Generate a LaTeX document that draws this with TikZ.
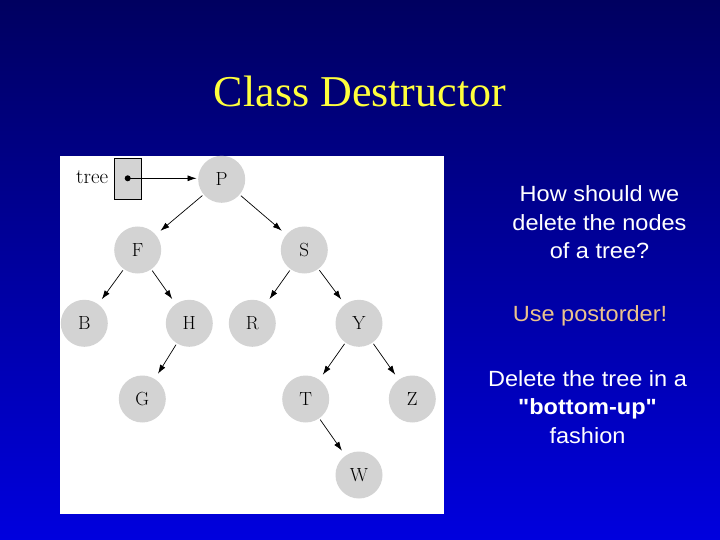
\documentclass[tikz,border=0pt]{standalone}
\usepackage{fontspec}
\usetikzlibrary{arrows.meta}
\newfontfamily\titlefont{Liberation Serif}
\newfontfamily\bodyfont{Liberation Sans}[FakeStretch=1.07]
\definecolor{bgtop}{RGB}{0,0,96}
\definecolor{bgbot}{RGB}{0,0,222}
\definecolor{titleyellow}{RGB}{255,255,60}
\definecolor{tanorange}{RGB}{235,195,140}
\definecolor{nodegray}{RGB}{211,211,211}
\begin{document}
\begin{tikzpicture}[x=1pt,y=-1pt,
  treenode/.style={circle, fill=nodegray, minimum size=47pt, inner sep=0pt, font=\fontsize{19}{21}\selectfont},
  edge/.style={-{Latex[length=9pt,width=6pt]}, line width=0.7pt, shorten >=6pt, shorten <=1.5pt},
  bodyline/.style={text=white, anchor=base, inner sep=0pt, font=\bodyfont\fontsize{22}{28}\selectfont}]
\useasboundingbox (0,0) rectangle (720,540);
\shade[top color=bgtop, bottom color=bgbot] (0,0) rectangle (720,540);
% title
\node (title) at (360,106.5) [anchor=base, inner sep=0pt, text=titleyellow, font=\titlefont\fontsize{44}{50}\selectfont] {Class Destructor};
% panel
\fill[white] (60,156) rectangle (444,514);
% tree nodes
\node[treenode] (P) at (221.7,179.3) {P};
\node[treenode] (F) at (137.7,250) {F};
\node[treenode] (S) at (304.3,250) {S};
\node[treenode] (B) at (84.3,323.3) {B};
\node[treenode] (H) at (189.3,323.3) {H};
\node[treenode] (R) at (252.3,323.3) {R};
\node[treenode] (Y) at (359,323.3) {Y};
\node[treenode] (G) at (142.3,399) {G};
\node[treenode] (T) at (305.7,399) {T};
\node[treenode] (Z) at (412.3,399) {Z};
\node[treenode] (W) at (359,475) {W};
% pointer
\node (treelbl) at (92.2,183.3) [anchor=base, inner sep=0pt, font=\fontsize{21}{23}\selectfont] {tree};
\node (box) at (127.9,178.7) [draw, line width=0.8pt, fill=nodegray, minimum width=27.7pt, minimum height=41pt, inner sep=0pt] {};
\node (dot) at (127.7,178.3) [circle, fill=black, inner sep=0pt, minimum size=6pt] {};
\draw[-{Latex[length=9pt,width=6pt]}, line width=0.7pt, shorten >=1.5pt] (dot.center) -- (dot.center -| P.west);
% edges
\draw[edge] (P) -- (F);
\draw[edge] (P) -- (S);
\draw[edge] (F) -- (B);
\draw[edge] (F) -- (H);
\draw[edge] (S) -- (R);
\draw[edge] (S) -- (Y);
\draw[edge] (H) -- (G);
\draw[edge] (Y) -- (T);
\draw[edge] (Y) -- (Z);
\draw[edge] (T) -- (W);
% right text
\node[bodyline] (q1) at (599.5,201.7) {How should we};
\node[bodyline] (q2) at (599.5,230) {delete the nodes};
\node[bodyline] (q3) at (599.5,258.3) {of a tree?};
\node[bodyline, text=tanorange] (u1) at (590,321.7) {Use postorder!};
\node[bodyline] (d1) at (587.5,386) {Delete the tree in a};
\node[bodyline, font=\bodyfont\bfseries\fontsize{22}{28}\selectfont] (d2) at (587.5,414.3) {"bottom-up"};
\node[bodyline] (d3) at (587.5,443.3) {fashion};
\end{tikzpicture}
\end{document}
